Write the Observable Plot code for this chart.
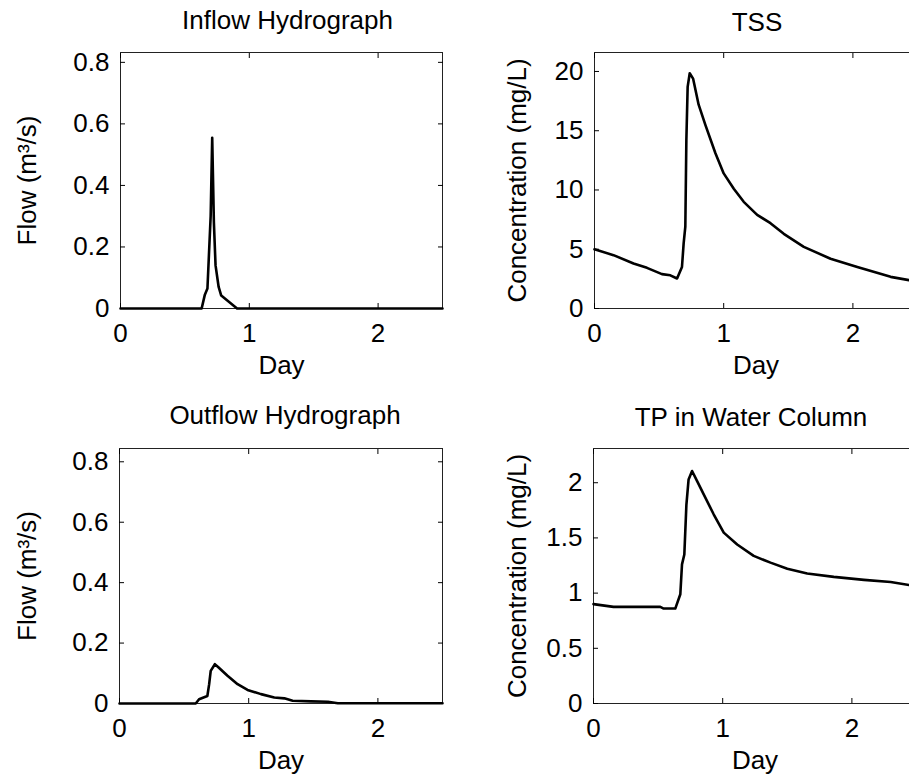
<!DOCTYPE html>
<html><head><meta charset="utf-8">
<script src="https://cdn.jsdelivr.net/npm/d3@7"></script>
<script src="https://cdn.jsdelivr.net/npm/@observablehq/plot@0.6"></script>
<style>
html,body{margin:0;padding:0;background:#fff;overflow:hidden;}
#fig{position:relative;width:909px;height:775px;overflow:hidden;background:#fff;}
#fig svg{position:absolute;}
</style></head><body><div id="fig"></div>
<script>
// ---- data ----
const xTicks = [0, 1, 2];
const flowTicks = [0, 0.2, 0.4, 0.6, 0.8];
const tssTicks = [0, 5, 10, 15, 20];
const tpTicks = [0, 0.5, 1, 1.5, 2];

const inflowDay = [0, 0.63, 0.655, 0.675, 0.70, 0.712, 0.725, 0.738, 0.762, 0.782, 0.905, 2.5];
const inflowQ   = [0, 0,    0.045, 0.065, 0.30, 0.555, 0.28,  0.14,  0.07,  0.042, 0,     0];

const outflowDay = [0, 0.59, 0.616, 0.68, 0.694, 0.706, 0.738, 0.763, 0.836, 0.914, 0.991, 1.095, 1.198, 1.276, 1.34, 1.483, 1.613, 1.69, 2.5];
const outflowQ   = [0, 0,    0.014, 0.025, 0.064, 0.108, 0.13, 0.121, 0.092, 0.064, 0.045, 0.031, 0.02, 0.017, 0.009, 0.007, 0.006, 0.001, 0.001];

const tssDay  = [0, 0.147, 0.302, 0.406, 0.522, 0.587, 0.639, 0.677, 0.69, 0.703, 0.711, 0.721, 0.737, 0.763, 0.806, 0.858, 0.936, 1.0, 1.078, 1.155, 1.259, 1.362, 1.465, 1.62, 1.827, 2.034, 2.292, 2.434, 2.5];
const tssConc = [5.0, 4.5, 3.8, 3.43, 2.9, 2.8, 2.53, 3.5, 5.5, 6.9, 14.2, 18.7, 19.85, 19.4, 17.2, 15.5, 13.1, 11.4, 10.1, 9.0, 7.9, 7.2, 6.3, 5.2, 4.2, 3.5, 2.67, 2.39, 2.3];

const tpDay  = [0, 0.155, 0.517, 0.543, 0.633, 0.672, 0.685, 0.703, 0.719, 0.736, 0.763, 0.802, 0.853, 0.93, 1.008, 1.112, 1.24, 1.37, 1.5, 1.654, 1.86, 2.093, 2.3, 2.442, 2.5];
const tpConc = [0.90, 0.875, 0.875, 0.86, 0.86, 0.99, 1.26, 1.35, 1.80, 2.03, 2.106, 2.015, 1.895, 1.714, 1.548, 1.44, 1.337, 1.276, 1.22, 1.177, 1.147, 1.12, 1.10, 1.074, 1.065];

const titles = ["Inflow Hydrograph", "TSS", "Outflow Hydrograph", "TP in Water Column"];
const flowLabel = "Flow (m\u00B3/s)";
const concLabel = "Concentration (mg/L)";
const dayLabel = "Day";

const zip = (xs, ys) => xs.map((d, i) => ({day: d, v: ys[i]}));
const FONT = "'Liberation Sans', Arial, Helvetica, sans-serif";
const fmt = d => String(d);
const fig = document.getElementById("fig");

function panel(o) {
  const svg = Plot.plot({
    width: o.width, height: o.height,
    marginLeft: o.ml, marginRight: o.mr, marginTop: o.mt, marginBottom: o.mb,
    style: {fontFamily: FONT, fontSize: "26px", color: "#000", background: "transparent", overflow: "visible"},
    x: {domain: [0, 2.5]},
    y: {domain: o.yDomain},
    marks: [
      Plot.frame({stroke: "#222", strokeWidth: 1}),
      Plot.axisX(xTicks, {anchor: "bottom", tickSize: 0, tickPadding: 15, tickFormat: fmt, fontSize: 26, label: null}),
      Plot.axisX(xTicks, {anchor: "bottom", tickSize: 5, dy: -5, text: null, label: null}),
      Plot.axisX(xTicks, {anchor: "top", tickSize: 5, dy: 5, text: null, label: null}),
      Plot.axisY(o.yTicks, {anchor: "left", tickSize: 0, tickPadding: 11, tickFormat: fmt, fontSize: 26, label: null}),
      Plot.axisY(o.yTicks, {anchor: "left", tickSize: 5, dx: 5, text: null, label: null}),
      Plot.axisY(o.yTicks, {anchor: "right", tickSize: 5, dx: -5, text: null, label: null}),
      Plot.line(o.data, {x: "day", y: "v", stroke: "#000", strokeWidth: 2.6, strokeLinejoin: "round"}),
      Plot.text([o.title], {frameAnchor: "top", lineAnchor: "middle", textAnchor: "middle", dy: o.titleDy, dx: o.titleDx, fontSize: 26}),
      Plot.text([dayLabel], {frameAnchor: "bottom", lineAnchor: "middle", textAnchor: "middle", dy: 57, fontSize: 26}),
      Plot.text([o.ylabel], {frameAnchor: "left", lineAnchor: "middle", textAnchor: "middle", dx: o.ylabelDx, rotate: -90, fontSize: 26})
    ]
  });
  svg.style.left = o.left + "px";
  svg.style.top = o.top + "px";
  fig.appendChild(svg);
}

panel({left: 0, top: 0, width: 454, height: 380, ml: 120, mr: 12, mt: 52, mb: 72,
  yDomain: [0, 0.832], yTicks: flowTicks, data: zip(inflowDay, inflowQ),
  title: titles[0], ylabel: flowLabel, ylabelDx: -93, titleDy: -32, titleDx: 6});
panel({left: 450, top: 0, width: 480, height: 380, ml: 144, mr: 13, mt: 52, mb: 72,
  yDomain: [0, 21.6], yTicks: tssTicks, data: zip(tssDay, tssConc),
  title: titles[1], ylabel: concLabel, ylabelDx: -77, titleDy: -30, titleDx: 1});
panel({left: 0, top: 380, width: 454, height: 395, ml: 119, mr: 12, mt: 68, mb: 72,
  yDomain: [0, 0.844], yTicks: flowTicks, data: zip(outflowDay, outflowQ),
  title: titles[2], ylabel: flowLabel, ylabelDx: -92, titleDy: -33, titleDx: 4});
panel({left: 450, top: 380, width: 480, height: 395, ml: 143, mr: 14, mt: 68, mb: 72,
  yDomain: [0, 2.31], yTicks: tpTicks, data: zip(tpDay, tpConc),
  title: titles[3], ylabel: concLabel, ylabelDx: -76, titleDy: -31, titleDx: -4});
</script>
</body></html>
